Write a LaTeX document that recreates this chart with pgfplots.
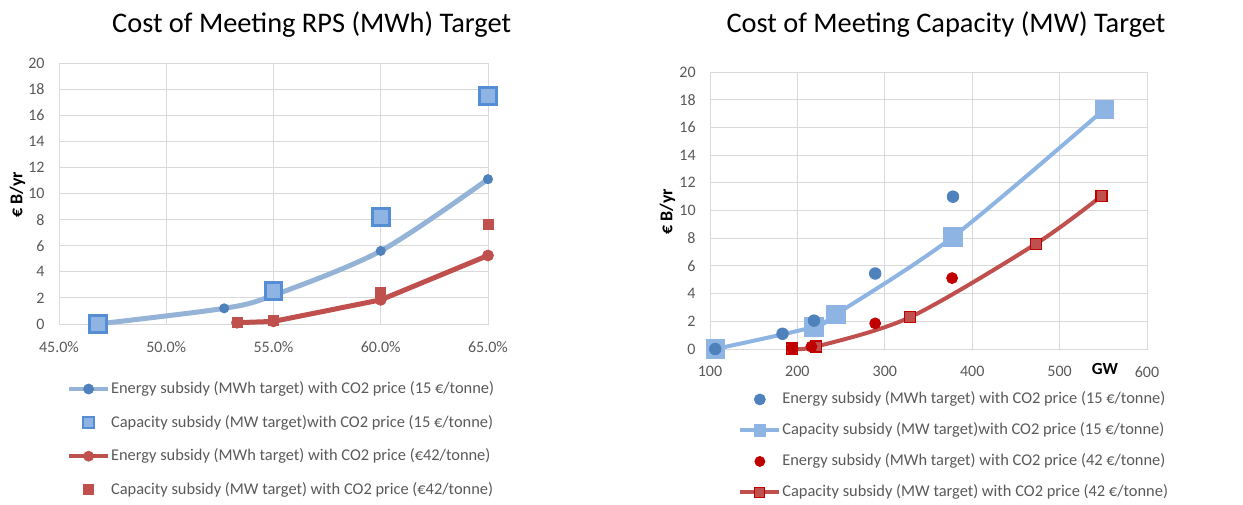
\documentclass[border=0pt]{standalone}
\usepackage{pgfplots}
\pgfplotsset{compat=1.18}
\usepackage{fontspec}
\setmainfont{Carlito}
\definecolor{gridgray}{HTML}{D9D9D9}
\definecolor{ticktext}{HTML}{595959}
\definecolor{lineblue}{HTML}{95B3D7}
\definecolor{lineblueR}{HTML}{8DB4E2}
\definecolor{dotblue}{HTML}{4F81BD}
\definecolor{sqfill}{HTML}{8EB4E3}
\definecolor{sqedge}{HTML}{558ED5}
\definecolor{redL}{HTML}{C0504D}
\definecolor{darkred}{HTML}{C00000}
\pgfplotsset{
  common/.style={
    scale only axis, anchor=south west, clip=false,
    ymin=0, ymax=20, ytick={0,2,...,20},
    grid=major, grid style={draw=gridgray, line width=0.5pt},
    axis line style={draw=gridgray, line width=0.5pt},
    major tick length=0pt,
    /pgf/number format/assume math mode=true,
    tick label style={font=\fontsize{8pt}{9pt}\selectfont, text=ticktext},
    yticklabel style={inner sep=0pt, xshift=-7pt},
    xticklabel style={inner sep=0pt, yshift=-8.5pt},
    legend cell align=left,
    legend image code/.code={\draw[mark repeat=2,mark phase=2,##1] plot coordinates {(0pt,0pt) (9.75pt,0pt) (19.5pt,0pt)};},
  }
}
\begin{document}
\begin{tikzpicture}
\path[use as bounding box] (0,0) rectangle (621.5pt,-252pt);
\node[font=\fontsize{14.2pt}{16pt}\selectfont] at (155.8pt,-12.5pt) {Cost of Meeting RPS (MWh) Target};
\node[font=\fontsize{14.2pt}{16pt}\selectfont] at (473pt,-12.5pt) {Cost of Meeting Capacity (MW) Target};
\node[rotate=90, font=\bfseries\fontsize{9pt}{10pt}\selectfont] at (8.75pt,-97.5pt) {€ B/yr};
\node[rotate=90, font=\bfseries\fontsize{9pt}{10pt}\selectfont] at (333.75pt,-105.8pt) {€ B/yr};
\node[font=\bfseries\fontsize{8.5pt}{9pt}\selectfont] at (552.5pt,-184.5pt) {GW};

% ---------------- left chart
\begin{axis}[common,
  at={(29.5pt,-162pt)}, width=214.5pt, height=130.5pt,
  xmin=45, xmax=65, xtick={45,50,55,60,65},
  xticklabels={45.0\%,50.0\%,55.0\%,60.0\%,65.0\%},
  legend style={at={(axis description cs:0.018,-0.215)}, anchor=north west,
    draw=none, fill=none, inner sep=0pt, row sep=8.3pt,
    font=\fontsize{8.2pt}{9.5pt}\selectfont, text=ticktext,
    nodes={inner sep=0.5pt}},
]
\addlegendimage{color=lineblue, line width=2pt, mark=*, mark size=2.5pt, mark options={fill=dotblue, draw=dotblue, line width=0.4pt}}
\addlegendentry{Energy subsidy (MWh target) with CO2 price (15 €/tonne)}
\addlegendimage{only marks, mark=square*, mark size=2.9pt, mark options={fill=sqfill, draw=sqedge, line width=1pt}}
\addlegendentry{Capacity subsidy (MW target)with CO2 price (15 €/tonne)}
\addlegendimage{color=redL, line width=2pt, mark=*, mark size=2.5pt, mark options={fill=redL, draw=redL, line width=0.4pt}}
\addlegendentry{Energy subsidy (MWh target) with CO2 price (€42/tonne)}
\addlegendimage{only marks, mark=square*, mark size=2.5pt, mark options={fill=redL, draw=redL, line width=0.4pt}}
\addlegendentry{Capacity subsidy (MW target) with CO2 price (€42/tonne)}

\addplot[forget plot, color=lineblue, line width=2.5pt, smooth, mark=*, mark size=2.3pt,
  mark options={fill=dotblue, draw=dotblue, line width=0.4pt}]
  coordinates {(46.8,0) (52.7,1.2) (55,2.2) (60,5.6) (65,11.1)};
\addplot[forget plot, only marks, mark=square*, mark size=4.2pt,
  mark options={fill=sqfill, draw=sqedge, line width=1.5pt}]
  coordinates {(46.8,0) (55,2.5) (60,8.2) (65,17.5)};
\addplot[forget plot, color=redL, line width=2.5pt, mark=*, mark size=2.75pt,
  mark options={fill=redL, draw=redL, line width=0.4pt}]
  coordinates {(53.3,0.1) (55,0.2) (60,1.85) (65,5.25)};
\addplot[forget plot, only marks, mark=square*, mark size=2.5pt,
  mark options={fill=redL, draw=redL, line width=0.4pt}]
  coordinates {(53.3,0.15) (55,0.25) (60,2.4) (65,7.6)};
\end{axis}

% ---------------- right chart
\begin{axis}[common,
  at={(355pt,-174.5pt)}, width=218.5pt, height=138.5pt,
  xmin=100, xmax=600, xtick={100,200,...,600},
  legend style={at={(axis description cs:0.064,-0.15)}, anchor=north west,
    draw=none, fill=none, inner sep=0pt, row sep=7.0pt,
    font=\fontsize{8.2pt}{9.5pt}\selectfont, text=ticktext,
    nodes={inner sep=0.5pt}},
]
\addlegendimage{only marks, mark=*, mark size=2.75pt, mark options={fill=dotblue, draw=dotblue, line width=0.4pt}}
\addlegendentry{Energy subsidy (MWh target) with CO2 price (15 €/tonne)}
\addlegendimage{color=lineblueR, line width=2pt, mark=square*, mark size=2.9pt, mark options={fill=lineblueR, draw=lineblueR, line width=0.4pt}}
\addlegendentry{Capacity subsidy (MW target)with CO2 price (15 €/tonne)}
\addlegendimage{only marks, mark=*, mark size=2.5pt, mark options={fill=darkred, draw=darkred, line width=0.4pt}}
\addlegendentry{Energy subsidy (MWh target) with CO2 price (42 €/tonne)}
\addlegendimage{color=redL, line width=2pt, mark=square*, mark size=2.5pt, mark options={fill=redL, draw=darkred, line width=0.6pt}}
\addlegendentry{Capacity subsidy (MW target) with CO2 price (42 €/tonne)}

\addplot[forget plot, color=lineblueR, line width=2pt, smooth, mark=square*, mark size=4.6pt,
  mark options={fill=lineblueR, draw=lineblueR, line width=0.4pt}]
  coordinates {(106,0) (219,1.6) (244,2.5) (378,8.1) (551,17.3)};
\addplot[forget plot, color=redL, line width=2pt, smooth, mark=square*, mark size=2.75pt,
  mark options={fill=redL, draw=darkred, line width=0.7pt}]
  coordinates {(194,0.05) (221,0.17) (329,2.3) (473,7.6) (548,11.05)};
\addplot[forget plot, only marks, mark=*, mark size=2.9pt,
  mark options={fill=dotblue, draw=dotblue, line width=0.4pt}]
  coordinates {(106,0) (183,1.1) (219,2.05) (289,5.45) (378,11.0)};
\addplot[forget plot, only marks, mark=*, mark size=2.75pt,
  mark options={fill=darkred, draw=darkred, line width=0.4pt}]
  coordinates {(194,0.05) (216,0.17) (289,1.85) (377,5.12)};
\end{axis}
\end{tikzpicture}
\end{document}
